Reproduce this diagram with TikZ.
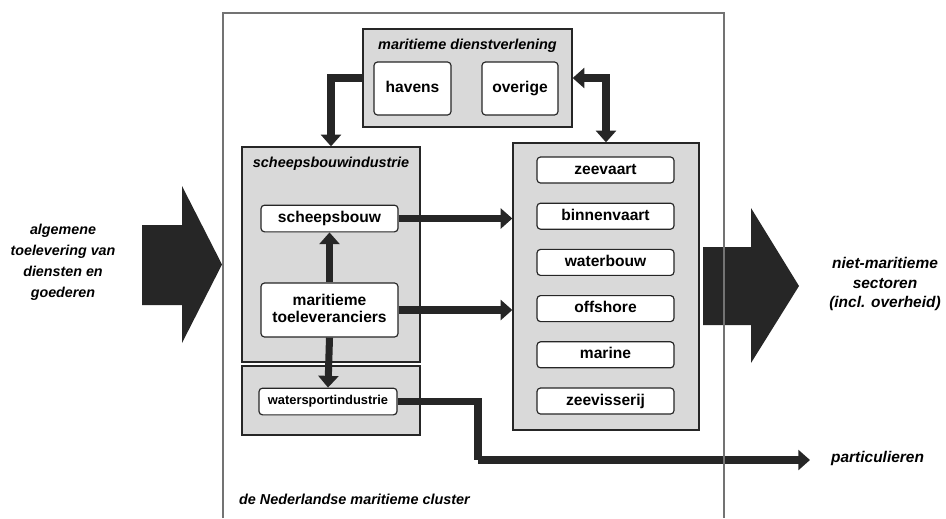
\documentclass[tikz,border=0pt]{standalone}
\usepackage{fontspec}
\setmainfont{Liberation Sans}
\usepackage{tikz}
\usetikzlibrary{arrows.meta, positioning, calc}

\definecolor{panelgrey}{gray}{0.85}
\definecolor{inkdark}{gray}{0.15}
\definecolor{framegrey}{gray}{0.45}

\begin{document}
\begin{tikzpicture}[
    x=0.03cm, y=-0.03cm,
    group/.style={rectangle, draw=inkdark, line width=1.1pt, fill=panelgrey},
    unit/.style={rectangle, rounded corners=3pt, draw=inkdark, line width=1pt, fill=white, minimum width=4.11cm, minimum height=0.8cm, align=center, inner sep=1pt, execute at begin node=\vphantom{hg}, font=\fontsize{13.3}{15}\selectfont\bfseries},
    group label/.style={font=\fontsize{12.3}{14}\selectfont\bfseries\itshape},
    side label/.style={align=center, font=\fontsize{12.2}{18}\selectfont\bfseries\itshape},
    flow/.style={-{Triangle[length=10pt,width=17pt]}, line width=6pt, color=inkdark},
    big arrow/.style={fill=inkdark}
]
\useasboundingbox (0,0) rectangle (946,518);

% grote pijlen in en uit
\fill[big arrow] (142,225) -- (182,225) -- (182,186) -- (222,264.5) -- (182,343) -- (182,305) -- (142,305) -- cycle;
\fill[big arrow] (703,247) -- (751,247) -- (751,208) -- (799,286) -- (751,363) -- (751,325) -- (703,325) -- cycle;

\node[side label] (toelevering) at (63,262) {algemene\\toelevering van\\diensten en\\goederen};
\node[side label, font=\fontsize{13.2}{16.5}\selectfont\bfseries\itshape] (nietmaritiem) at (885,284) {niet-maritieme\\sectoren\\(incl. overheid)};

% maritieme dienstverlening
\node[group, minimum width=6.27cm, minimum height=2.94cm] (dienst) at (467.5,78) {};
\node[group label] (dienstkop) at (467.5,46) {maritieme dienstverlening};
\node[unit, minimum width=2.31cm, minimum height=1.59cm] (havens) at (412.5,88.5) {havens};
\node[unit, minimum width=2.28cm, minimum height=1.59cm] (overige) at (520,88.5) {overige};

% scheepsbouwindustrie
\node[group, minimum width=5.34cm, minimum height=6.45cm] (sbi) at (331,254.5) {};
\node[group label] (sbikop) at (331,164) {scheepsbouwindustrie};
\node[unit] (scheepsbouw) at (329.5,218.5) {scheepsbouw};
\node[unit, minimum height=1.62cm] (toelev) at (329.5,310) {maritieme\\toeleveranciers};

% watersport
\node[group, minimum width=5.34cm, minimum height=2.07cm] (wsi) at (331,400.5) {};
\node[unit, minimum width=4.14cm, font=\fontsize{11}{13}\selectfont\bfseries] (watersport) at (328,401.5) {watersportindustrie};

% maritieme sectoren
\node[group, minimum width=5.58cm, minimum height=8.61cm] (sectoren) at (606,286.5) {};
\foreach \naam [count=\i from 0] in {zeevaart, binnenvaart, waterbouw, offshore, marine, zeevisserij}
    \node[unit, minimum height=0.78cm] (\naam) at (605.5,{170+46.2*\i}) {\naam};

% verbindingen
\draw[flow] (dienst.west) -| (sbi.north);
\draw[flow, {Triangle[length=10pt,width=17pt]}-{Triangle[length=10pt,width=17pt]}] (dienst.east) -| (sectoren.north);
\draw[flow] (scheepsbouw.east) -- (scheepsbouw.east -| sectoren.west);
\draw[flow] (toelev.east) -- (toelev.east -| sectoren.west);
\draw[flow] (toelev.north) -- (scheepsbouw.south);
\draw[flow] (toelev.south) -- (watersport.north);

\node[group label, anchor=west, font=\fontsize{13.2}{15}\selectfont\bfseries\itshape] (partic) at (827,458) {particulieren};
\coordinate (knik) at (478,460);
\coordinate (eind) at (810,460);
\draw[flow, -] (watersport.east) -| (knik);
\draw[flow] (knik) -- (eind);

% kader van het cluster
\draw[framegrey, line width=1.5pt] (223,518) -- (223,13) -- (724,13) -- (724,518);
\node[group label, anchor=west] (clusterkop) at (235,499) {de Nederlandse maritieme cluster};

\end{tikzpicture}
\end{document}
